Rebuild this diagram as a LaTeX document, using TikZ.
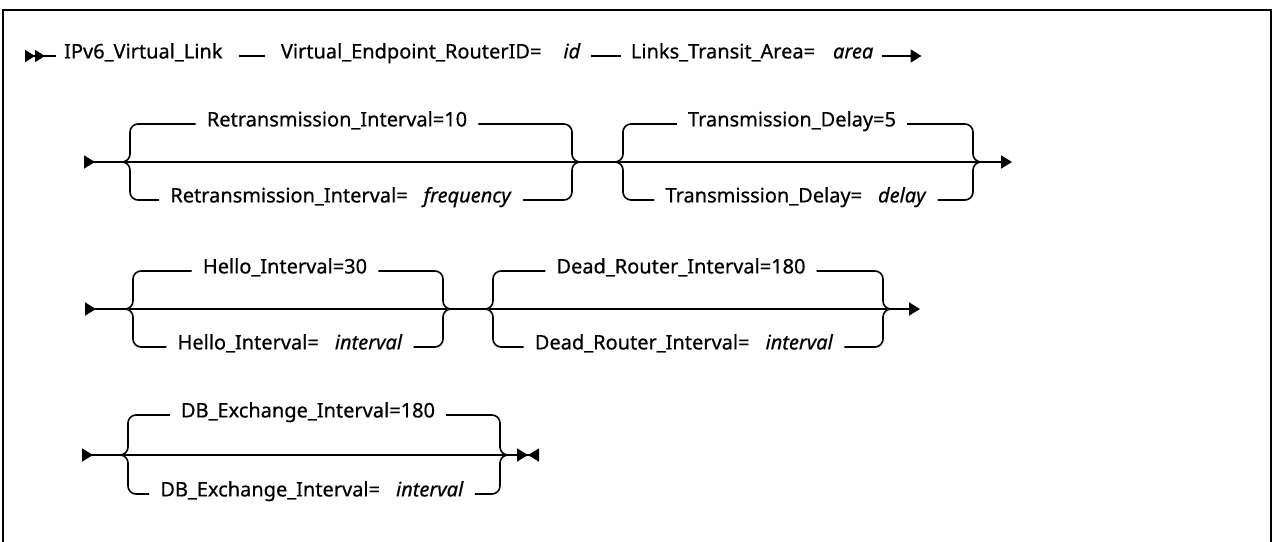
\documentclass[tikz,border=0pt]{standalone}
\usepackage{fontspec}
\setmainfont{Noto Sans}[FakeBold=0.6]
\usetikzlibrary{positioning,arrows.meta}

\begin{document}
\begin{tikzpicture}[
  x=1pt, y=-1pt,
  node distance=42pt,
  font=\fontsize{20}{24}\selectfont,
  kw/.style={inner xsep=8pt, inner ysep=0pt, text height=0.75em, text depth=0.27em},
  opt/.style={kw, inner xsep=11pt},
  rail/.style={line width=1.6pt},
  link/.style={rail, shorten <=8pt, shorten >=8pt},
  brace/.style={rail, rounded corners=8pt},
  railrow/.style={rail, {Triangle[reversed,length=11pt,width=13pt]}-{Triangle[length=11pt,width=13pt]}},
  lastrow/.style={rail, {Triangle[reversed,length=11pt,width=13pt]}-{Triangle[length=11pt,width=13pt]Triangle[reversed,length=11pt,width=13pt]}},
  dblstart/.style={rail, {Triangle[reversed,length=10pt,width=12pt]Triangle[reversed,length=10pt,width=12pt]}-}
]
\useasboundingbox (0,0) rectangle (1274,541);
% frame
\draw[line width=2pt] (3,560) -- (3,10) -- (1271,10) -- (1271,560);

% row 1: required part
\coordinate (r1s) at (25,56);
\node[kw, anchor=west] (ipv6) at (56,56) {IPv6\_Virtual\_Link};
\node[kw, right=of ipv6] (vep) {Virtual\_Endpoint\_RouterID=\hspace{1.1em}\textit{id}};
\node[kw, right=34pt of vep] (lta) {Links\_Transit\_Area=\hspace{0.9em}\textit{area}};
\coordinate[right=40pt of lta] (r1e);
\draw[dblstart] (r1s) -- (ipv6);
\draw[link] (ipv6) -- (vep);
\draw[rail, shorten <=2pt, shorten >=2pt] (vep) -- (lta);
\draw[rail, -{Triangle[length=11pt,width=13pt]}] (lta) -- (r1e);

% row 2: retransmission interval, transmission delay
\coordinate (r2s) at (84,162);
\coordinate (r2e) at (1012,162);
\coordinate (g1l) at (130,162);
\coordinate (g1r) at (572,162);
\coordinate (g2l) at (623,162);
\coordinate (g2r) at (973,162);
\node[opt] (ret)  at (337,124) {Retransmission\_Interval=10};
\node[opt] (retv) at (341,200) {Retransmission\_Interval=\hspace{0.8em}\textit{frequency}};
\node[opt] (td)   at (792,124) {Transmission\_Delay=5};
\node[opt] (tdv)  at (796,200) {Transmission\_Delay=\hspace{0.8em}\textit{delay}};
\draw[railrow] (r2s) -- (r2e);
\draw[brace] (g1l) ++(-8,0) -- (g1l) |- (ret.west);
\draw[brace] (g1l) ++(-8,0) -- (g1l) |- (retv.west);
\draw[brace] (ret.east) -| (g1r) -- ++(8,0);
\draw[brace] (retv.east) -| (g1r) -- ++(8,0);
\draw[brace] (g2l) ++(-8,0) -- (g2l) |- (td.west);
\draw[brace] (g2l) ++(-8,0) -- (g2l) |- (tdv.west);
\draw[brace] (td.east) -| (g2r) -- ++(8,0);
\draw[brace] (tdv.east) -| (g2r) -- ++(8,0);

% row 3: hello interval, dead router interval
\coordinate (r3s) at (85,309);
\coordinate (r3e) at (920,309);
\coordinate (g3l) at (133,309);
\coordinate (g3r) at (443,309);
\coordinate (g4l) at (493,309);
\coordinate (g4r) at (883,309);
\node[opt] (hel)  at (285,271) {Hello\_Interval=30};
\node[opt] (helv) at (290,347) {Hello\_Interval=\hspace{0.8em}\textit{interval}};
\node[opt] (dead)  at (681,271) {Dead\_Router\_Interval=180};
\node[opt] (deadv) at (684,347) {Dead\_Router\_Interval=\hspace{0.8em}\textit{interval}};
\draw[railrow] (r3s) -- (r3e);
\draw[brace] (g3l) ++(-8,0) -- (g3l) |- (hel.west);
\draw[brace] (g3l) ++(-8,0) -- (g3l) |- (helv.west);
\draw[brace] (hel.east) -| (g3r) -- ++(8,0);
\draw[brace] (helv.east) -| (g3r) -- ++(8,0);
\draw[brace] (g4l) ++(-8,0) -- (g4l) |- (dead.west);
\draw[brace] (g4l) ++(-8,0) -- (g4l) |- (deadv.west);
\draw[brace] (dead.east) -| (g4r) -- ++(8,0);
\draw[brace] (deadv.east) -| (g4r) -- ++(8,0);

% row 4: database exchange interval, end of statement
\coordinate (r4s) at (82,455);
\coordinate (r4e) at (539,455);
\coordinate (g5l) at (128,455);
\coordinate (g5r) at (500,455);
\node[opt] (dbx)  at (308,415) {DB\_Exchange\_Interval=180};
\node[opt] (dbxv) at (312,494) {DB\_Exchange\_Interval=\hspace{0.8em}\textit{interval}};
\draw[lastrow] (r4s) -- (r4e);
\draw[brace] (g5l) ++(-8,0) -- (g5l) |- (dbx.west);
\draw[brace] (g5l) ++(-8,0) -- (g5l) |- (dbxv.west);
\draw[brace] (dbx.east) -| (g5r) -- ++(8,0);
\draw[brace] (dbxv.east) -| (g5r) -- ++(8,0);
\end{tikzpicture}
\end{document}
